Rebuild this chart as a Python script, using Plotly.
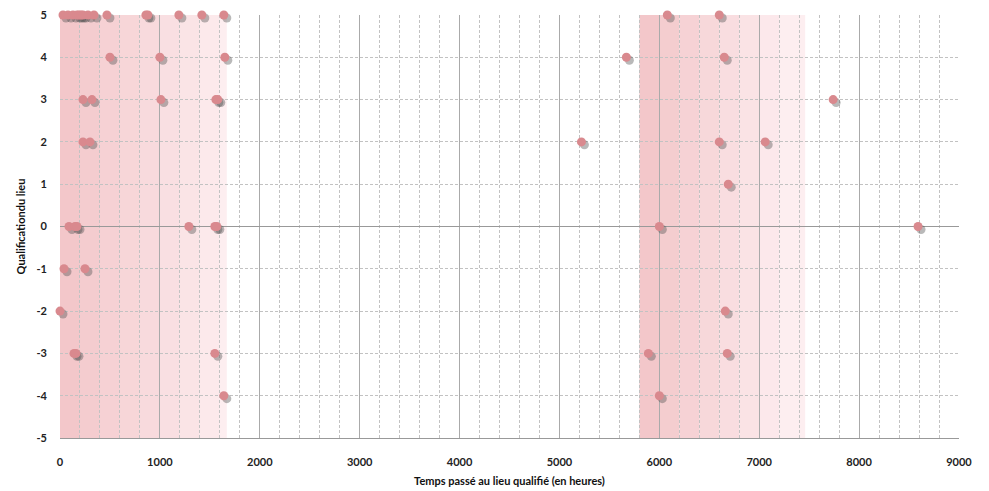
import plotly.graph_objects as go

# Data: hours spent at qualified place vs qualification
hours = [
    # y = 5
    30, 80, 130, 170, 190, 210, 230, 280, 340, 470, 860, 880, 1190, 1420, 1640, 6080, 6600,
    # y = 4
    500, 1000, 1650, 5670, 6650,
    # y = 3
    230, 320, 1010, 1560, 1580, 7740,
    # y = 2
    230, 300, 5220, 6600, 7060,
    # y = 1
    6690,
    # y = 0
    90, 150, 170, 1290, 1550, 1570, 6000, 8590,
    # y = -1
    40, 250,
    # y = -2
    0, 6660,
    # y = -3
    140, 160, 1550, 5890, 6680,
    # y = -4
    1640, 6000,
]
qualification = (
    [5] * 17 + [4] * 5 + [3] * 6 + [2] * 5 + [1] * 1 + [0] * 8 + [-1] * 2 + [-2] * 2 + [-3] * 5 + [-4] * 2
)

# shaded periods (stepped gradient boundaries, hours)
band1_edges = [0, 200, 400, 600, 800, 1000, 1200, 1400, 1600, 1670]
band2_edges = [5800, 6000, 6200, 6400, 6600, 6800, 7000, 7200, 7460]

x_ticks = [0, 1000, 2000, 3000, 4000, 5000, 6000, 7000, 8000, 9000]
y_ticks = [-5, -4, -3, -2, -1, 0, 1, 2, 3, 4, 5]


def step_colors(n):
    c0 = (243, 199, 202)
    c1 = (253, 238, 240)
    out = []
    for i in range(n):
        t = i / max(n - 1, 1)
        r = round(c0[0] + (c1[0] - c0[0]) * t)
        g = round(c0[1] + (c1[1] - c0[1]) * t)
        b = round(c0[2] + (c1[2] - c0[2]) * t)
        out.append(f"rgb({r},{g},{b})")
    return out


shapes = []
for edges in (band1_edges, band2_edges):
    cols = step_colors(len(edges) - 1)
    for i in range(len(edges) - 1):
        shapes.append(dict(type="rect", xref="x", yref="y", x0=edges[i], x1=edges[i + 1],
                           y0=-5, y1=5, fillcolor=cols[i], line=dict(width=0), layer="below"))

fig = go.Figure()
# soft shadow
fig.add_trace(go.Scatter(
    x=[h + 30 for h in hours], y=[q - 0.07 for q in qualification], mode="markers",
    marker=dict(size=9, color="rgba(80,80,80,0.4)", line=dict(width=0)),
    hoverinfo="skip", showlegend=False, cliponaxis=False))
fig.add_trace(go.Scatter(
    x=hours, y=qualification, mode="markers",
    marker=dict(size=9, color="#d9898e", line=dict(width=0)),
    showlegend=False, cliponaxis=False))

fig.update_layout(
    width=981, height=483,
    margin=dict(l=52, r=30, t=7, b=53),
    paper_bgcolor="white", plot_bgcolor="rgba(0,0,0,0)",
    shapes=shapes,
    font=dict(family="Lato", size=11, color="#222"),
    xaxis=dict(
        range=[0, 9000], tickvals=x_ticks, ticktext=[str(v) for v in x_ticks],
        showgrid=True, gridcolor="#aaaaaa", gridwidth=1,
        minor=dict(dtick=200, showgrid=True, gridcolor="#c2c2c2", griddash="3px,2px", gridwidth=1),
        zeroline=False, showline=True, linecolor="#999999",
        tickfont=dict(family="Lato", size=11, color="#222", weight="bold"),
        ticks="", ticklabelstandoff=14, automargin=False, ticklabeloverflow="allow",
        title=dict(text="<b>Temps passé au lieu qualifié (en heures)</b>", font=dict(family="Lato", size=11, color="#111"), standoff=10),
    ),
    yaxis=dict(
        range=[-5, 5], tickvals=y_ticks, ticktext=[str(v) for v in y_ticks],
        showgrid=True, gridcolor="#c2c2c2", griddash="3px,2px", gridwidth=1,
        zeroline=True, zerolinecolor="#999999", zerolinewidth=1,
        showline=False,
        tickfont=dict(family="Lato", size=11, color="#222", weight="bold"),
        ticks="", ticklabelstandoff=12, automargin=False, ticklabeloverflow="allow",
        title=dict(text="<b>Qualificationdu lieu</b>", font=dict(family="Lato", size=11, color="#111"), standoff=8),
    ),
)

fig.write_html("out.html")
